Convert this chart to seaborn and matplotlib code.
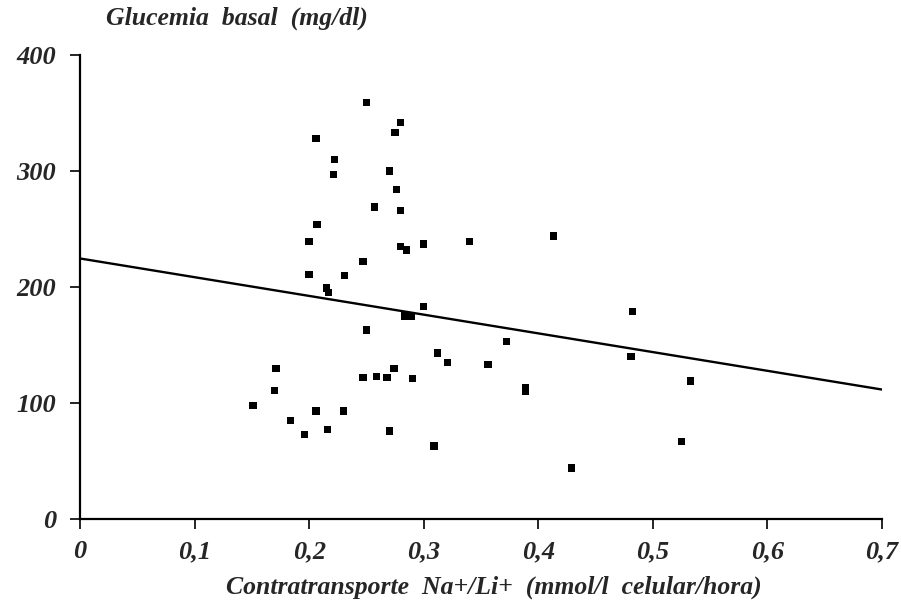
import matplotlib
matplotlib.use("Agg")
import matplotlib.pyplot as plt
import seaborn as sns
import pandas as pd

# Data
contratransporte = [0.250, 0.280, 0.275, 0.206, 0.222, 0.221, 0.270, 0.276, 0.257, 0.280,
                    0.207, 0.200, 0.280, 0.285, 0.300, 0.340, 0.413, 0.247, 0.231, 0.200,
                    0.215, 0.217, 0.300, 0.283, 0.286, 0.289, 0.482, 0.250, 0.372, 0.312,
                    0.481, 0.321, 0.356, 0.274, 0.247, 0.259, 0.268, 0.290, 0.171, 0.533,
                    0.389, 0.389, 0.170, 0.151, 0.206, 0.184, 0.216, 0.196, 0.230, 0.270,
                    0.309, 0.525, 0.429]
glucemia = [359, 342, 333, 328, 310, 297, 300, 284, 269, 266,
            254, 239, 235, 232, 237, 239, 244, 222, 210, 211,
            199, 195, 183, 175, 175, 175, 179, 163, 153, 143,
            140, 135, 133, 130, 122, 123, 122, 121, 130, 119,
            113, 110, 111, 98, 93, 85, 77, 73, 93, 76,
            63, 67, 44]
line_x = [0.0, 0.7]
line_y = [224.6, 111.6]

x_ticks = [0, 0.1, 0.2, 0.3, 0.4, 0.5, 0.6, 0.7]
x_ticklabels = ["0", "0,1", "0,2", "0,3", "0,4", "0,5", "0,6", "0,7"]
y_ticks = [0, 100, 200, 300, 400]
y_ticklabels = ["0", "100", "200", "300", "400"]

sns.set_theme(style="ticks")
plt.rcParams["font.family"] = ["Liberation Serif", "DejaVu Serif"]

df = pd.DataFrame({"x": contratransporte, "y": glucemia})
dline = pd.DataFrame({"x": line_x, "y": line_y})

fig = plt.figure(figsize=(9.01, 6.06), dpi=100)
ax = fig.add_axes([80 / 901, 87 / 606, 802 / 901, 464 / 606])

sns.lineplot(data=dline, x="x", y="y", ax=ax, color="black", linewidth=1.7)
sns.scatterplot(data=df, x="x", y="y", ax=ax, marker="s", s=28, color="black",
                edgecolor="none", linewidth=0)

ax.set_xlim(0, 0.7)
ax.set_ylim(0, 400)
ax.set_xticks(x_ticks)
ax.set_xticklabels(x_ticklabels)
ax.set_yticks(y_ticks)
ax.set_yticklabels(y_ticklabels)

fp = dict(fontsize=18.5, fontweight="bold", fontstyle="italic")
for lab in ax.get_xticklabels() + ax.get_yticklabels():
    lab.set_fontsize(19)
    lab.set_fontweight("bold")
    lab.set_fontstyle("italic")

ax.tick_params(axis="both", direction="out", length=7, width=1.2, color="black", pad=8)
ax.tick_params(axis="y", pad=10)

for s in ["top", "right"]:
    ax.spines[s].set_visible(False)
for s in ["left", "bottom"]:
    ax.spines[s].set_linewidth(1.6)
    ax.spines[s].set_color("black")

ax.set_xlabel("Contratransporte  Na+/Li+  (mmol/l  celular/hora)", **fp)
ax.xaxis.set_label_coords(0.516, -0.122)
ax.set_ylabel("")
fig.text(237 / 901, 1 - 18 / 606, "Glucemia  basal  (mg/dl)", ha="center", va="center", **fp)

fig.savefig("out.png", dpi=100, facecolor="white")
